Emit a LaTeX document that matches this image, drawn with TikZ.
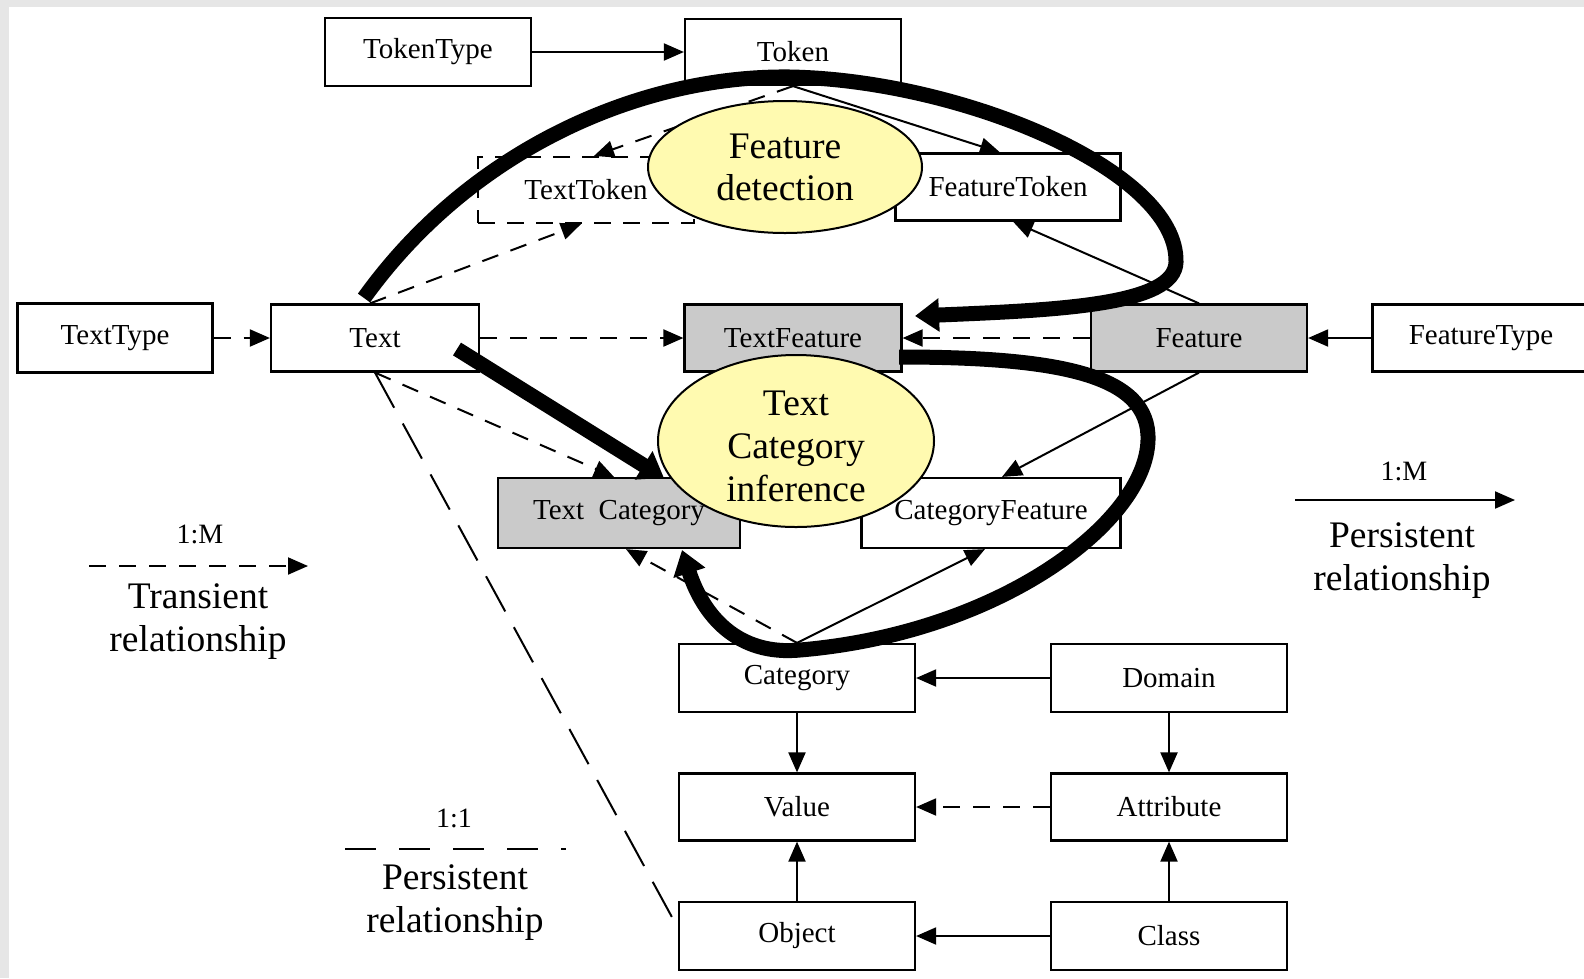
\documentclass[tikz,border=0pt]{standalone}
\usepackage{fontspec}
\setmainfont{Liberation Serif}
\usetikzlibrary{arrows.meta,shapes.geometric}
\definecolor{boxgray}{RGB}{202,202,202}
\definecolor{ellyellow}{RGB}{255,250,176}
\definecolor{framegray}{RGB}{230,230,230}
\newcommand\boxfont{\fontsize{29}{33}\selectfont}
\newcommand\cardfont{\fontsize{28}{32}\selectfont}
\newcommand\ellfont{\fontsize{37.5}{42}\selectfont}
\newcommand\ellfontb{\fontsize{37.5}{43}\selectfont}
\begin{document}
\begin{tikzpicture}[x=1pt,y=-1pt,
  box/.style={draw, line width=2.2pt, fill=white, inner sep=0pt, minimum height=67pt, font=\boxfont},
  greybox/.style={box, fill=boxgray},
  proc/.style={ellipse, draw, line width=2pt, fill=ellyellow, inner sep=0pt, align=center, font=\ellfont},
  proctext/.style={inner sep=0pt, align=center, font=\ellfontb},
  rel/.style={line width=2pt, -{Triangle[length=20pt,width=17pt]}},
  trans/.style={rel, dash pattern=on 17pt off 13pt},
  oneone/.style={line width=2pt, dash pattern=on 40pt off 18pt},
  flow/.style={line width=15pt, -{Triangle[length=24pt,width=32pt]}},
  legend/.style={inner sep=0pt, align=center, font=\ellfontb},
  card/.style={inner sep=0pt, font=\cardfont}]
\useasboundingbox (0,0) rectangle (1584,978);
\clip (0,0) rectangle (1584,978);
\fill[framegray] (0,0) rectangle (1584,978);
\fill[white] (9,7) rectangle (1584,978);

% boxes
\node[box, minimum width=206pt, minimum height=68pt] (TokenType) at (428,52) {TokenType};
\node[box, minimum width=216pt, minimum height=66pt] (Token) at (793,52) {Token};
\node[box, minimum width=216pt, minimum height=66pt, dashed, dash pattern=on 17pt off 12pt] (TextToken) at (586,190) {TextToken};
\node[box, minimum width=225pt] (FeatureToken) at (1008,187) {FeatureToken};
\node[box, minimum width=195pt, minimum height=69pt] (TextType) at (115,338) {TextType};
\node[box, minimum width=208pt] (Text) at (375,338) {Text};
\node[greybox, minimum width=217pt] (TextFeature) at (793,338) {TextFeature};
\node[greybox, minimum width=216pt] (Feature) at (1199,338) {Feature};
\node[box, minimum width=217pt] (FeatureType) at (1481,338) {FeatureType};
\node[greybox, minimum width=242pt, minimum height=70pt] (TextCategory) at (619,513) {Text~~Category};
\node[box, minimum width=259pt, minimum height=70pt] (CategoryFeature) at (991,513) {CategoryFeature};
\node[box, minimum width=236pt, minimum height=68pt] (Category) at (797,678) {Category};
\node[box, minimum width=236pt, minimum height=68pt] (Domain) at (1169,678) {Domain};
\node[box, minimum width=236pt] (Value) at (797,807) {Value};
\node[box, minimum width=236pt] (Attribute) at (1169,807) {Attribute};
\node[box, minimum width=236pt, minimum height=68pt] (Object) at (797,936) {Object};
\node[box, minimum width=236pt, minimum height=68pt] (Class) at (1169,936) {Class};

% thin connectors
\draw[rel] (TokenType) -- (Token);
\draw[trans] (TextType) -- (Text);
\draw[trans] (Text) -- (TextFeature);
\draw[trans] (Feature) -- (TextFeature);
\draw[rel] (FeatureType) -- (Feature);
\draw[rel] (Token.south) -- ([xshift=-8pt]FeatureToken.north);
\draw[rel] (Feature.north) -- ([xshift=5pt]FeatureToken.south);
\draw[trans] (Token.south) -- ([xshift=8pt]TextToken.north);
\draw[trans] ([xshift=-5pt]Text.north) -- ([xshift=-5pt]TextToken.south);
\draw[trans] (Text.south) -- ([xshift=-5pt]TextCategory.north);
\draw[oneone] (Text.south) -- ([yshift=8pt]Object.west);
\draw[trans] (Category.north) -- ([xshift=7pt]TextCategory.south);
\draw[rel] (Feature.south) -- ([xshift=11pt]CategoryFeature.north);
\draw[rel] (Category.north) -- ([xshift=-6pt]CategoryFeature.south);
\draw[rel] (Domain) -- (Category);
\draw[rel] (Category) -- (Value);
\draw[rel] (Domain) -- (Attribute);
\draw[trans] (Attribute) -- (Value);
\draw[rel] (Object) -- (Value);
\draw[rel] (Class) -- (Attribute);
\draw[rel] (Class) -- (Object);

% processes
\node[proc, minimum width=274pt, minimum height=132pt] (FD) at (785,167) {Feature\\detection};
\node[proc, minimum width=276pt, minimum height=172pt] (TCI) at (796,441) {};
\node[proctext] (TCIlabel) at ([yshift=-5pt]TCI.center) {Text\\Category\\inference};

% thick flows on top
\coordinate (aS) at (364,298);
\coordinate (aE) at (915,316);
\draw[flow] (aS) .. controls (470,150) and (640,75) .. (790,77)
  .. controls (960,80) and (1178,170) .. (1176,262)
  .. controls (1175,305) and (1060,310) .. (aE);
\coordinate (bS) at (457,349);
\coordinate (bE) at (664,478);
\draw[flow] (bS) -- (bE);
\coordinate (cS) at (899,357);
\coordinate (cE) at (682,550);
\draw[flow] (cS) .. controls (1060,357) and (1150,375) .. (1148,440)
  .. controls (1146,522) and (1000,633) .. (800,650)
  .. controls (737,656) and (703,615) .. (cE);

% legends
\coordinate (l1a) at (89,566);
\coordinate (l1b) at (308,566);
\draw[trans] (l1a) -- (l1b);
\node[card] (l1c) at (200,534) {1:M};
\node[legend] (l1t) at (198,622) {Transient\\relationship};

\coordinate (l2a) at (345,849);
\coordinate (l2b) at (566,849);
\draw[line width=2pt, dash pattern=on 31pt off 23pt] (l2a) -- (l2b);
\node[card] (l2c) at (454,818) {1:1};
\node[legend] (l2t) at (455,903) {Persistent\\relationship};

\coordinate (l3a) at (1295,500);
\coordinate (l3b) at (1515,500);
\draw[rel] (l3a) -- (l3b);
\node[card] (l3c) at (1404,471) {1:M};
\node[legend] (l3t) at (1402,561) {Persistent\\relationship};
\end{tikzpicture}
\end{document}
